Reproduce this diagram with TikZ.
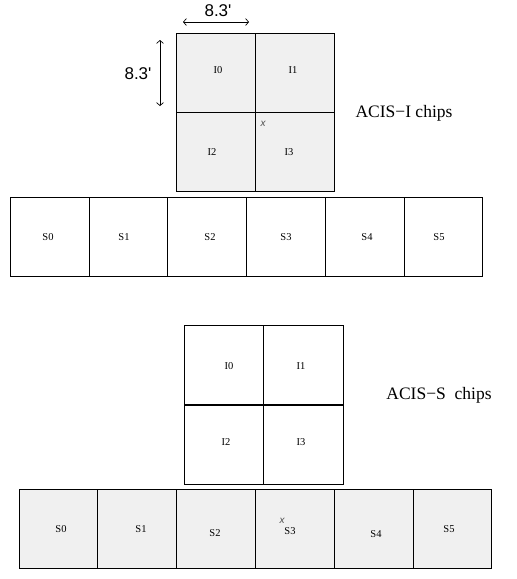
\documentclass[tikz,border=0pt]{standalone}
\usepackage{fontspec}
\setmainfont{Liberation Serif}
\newfontfamily\dimfont{Liberation Sans}
\usetikzlibrary{arrows.meta}
\definecolor{chipgray}{HTML}{F0F0F0}
\begin{document}
\begin{tikzpicture}[x=1pt,y=-1pt,
  chip/.style={draw=black,line width=0.8pt,minimum width=#1,minimum height=79pt,inner sep=0pt,anchor=north west},
  chip/.default=79pt,
  chiplabel/.style={font=\fontsize{10.5}{11}\selectfont,inner sep=0pt},
  title/.style={font=\fontsize{17.5}{19}\selectfont,inner sep=0pt},
  dimlabel/.style={font=\dimfont\fontsize{17}{19}\selectfont,inner sep=0pt},
  dimarrow/.style={line width=0.7pt,{Straight Barb[length=3pt,width=7pt]}-{Straight Barb[length=3pt,width=7pt]}},
  marker/.style={font=\dimfont\itshape\fontsize{10}{11}\selectfont,text=black!70,inner sep=0pt}]
\useasboundingbox (0,0) rectangle (517,579);
% ---------- ACIS-I configuration ----------
\node[chip,fill=chipgray] (tI0) at (176,33) {};
\node[chip,fill=chipgray] (tI1) at (255,33) {};
\node[chip,fill=chipgray] (tI2) at (176,112) {};
\node[chip,fill=chipgray] (tI3) at (255,112) {};
\node[chiplabel] (ltI0) at (218,70) {I0};
\node[chiplabel] (ltI1) at (293,70) {I1};
\node[chiplabel] (ltI2) at (212,152) {I2};
\node[chiplabel] (ltI3) at (289,152) {I3};
\node[marker] (tx) at (263,124) {x};
\node[chip] (tS0) at (10,197) {};
\node[chip=78pt] (tS1) at (89,197) {};
\node[chip] (tS2) at (167,197) {};
\node[chip] (tS3) at (246,197) {};
\node[chip] (tS4) at (325,197) {};
\node[chip=78pt] (tS5) at (404,197) {};
\node[chiplabel] (ltS0) at (48,237) {S0};
\node[chiplabel] (ltS1) at (124,237) {S1};
\node[chiplabel] (ltS2) at (210,237) {S2};
\node[chiplabel] (ltS3) at (286,237) {S3};
\node[chiplabel] (ltS4) at (367,237) {S4};
\node[chiplabel] (ltS5) at (439,237) {S5};
\node[title] (tI) at (404,113) {ACIS−I chips};
% dimension arrows
\coordinate (hA) at (183,22);
\coordinate (hB) at (249,22);
\draw[dimarrow] (hA) -- (hB);
\node[dimlabel] (hL) at (218,11) {8.3'};
\coordinate (vA) at (160,40);
\coordinate (vB) at (160,106);
\draw[dimarrow] (vA) -- (vB);
\node[dimlabel] (vL) at (138,74) {8.3'};
% ---------- ACIS-S configuration ----------
\node[chip] (bI0) at (184,325) {};
\node[chip=80pt] (bI1) at (263,325) {};
\node[chip] (bI2) at (184,405) {};
\node[chip=80pt] (bI3) at (263,405) {};
\node[chiplabel] (lbI0) at (229,366) {I0};
\node[chiplabel] (lbI1) at (301,366) {I1};
\node[chiplabel] (lbI2) at (226,442) {I2};
\node[chiplabel] (lbI3) at (301,442) {I3};
\node[title] (tS) at (439,395) {ACIS−S\enspace chips};
\node[chip=78pt,fill=chipgray] (bS0) at (19,489) {};
\node[chip,fill=chipgray] (bS1) at (97,489) {};
\node[chip,fill=chipgray] (bS2) at (176,489) {};
\node[chip,fill=chipgray] (bS3) at (255,489) {};
\node[chip,fill=chipgray] (bS4) at (334,489) {};
\node[chip=78pt,fill=chipgray] (bS5) at (413,489) {};
\node[chiplabel] (lbS0) at (61,529) {S0};
\node[chiplabel] (lbS1) at (141,529) {S1};
\node[chiplabel] (lbS2) at (215,533) {S2};
\node[chiplabel] (lbS3) at (290,531) {S3};
\node[chiplabel] (lbS4) at (376,534) {S4};
\node[chiplabel] (lbS5) at (449,529) {S5};
\node[marker] (bx) at (282,521) {x};
\end{tikzpicture}
\end{document}
